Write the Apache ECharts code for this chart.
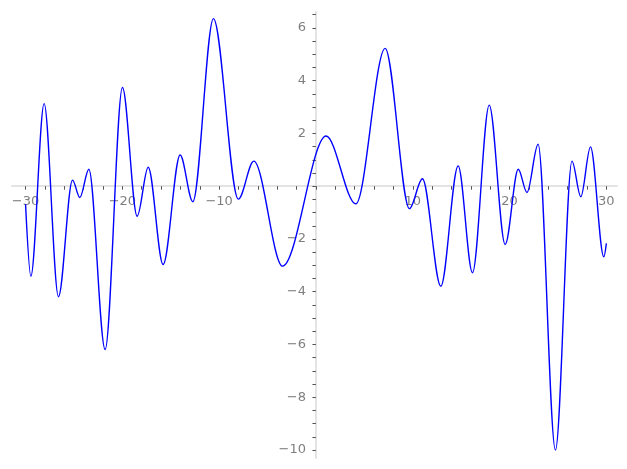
<!DOCTYPE html>
<html>
<head>
<meta charset="utf-8">
<script src="https://cdn.jsdelivr.net/npm/echarts@6/dist/echarts.min.js"></script>
<style>
html,body{margin:0;padding:0;background:#fff;}
#chart{width:627px;height:469px;}
</style>
</head>
<body>
<div id="chart"></div>
<script>
// Curve turning points (plus the two end points)
const xValues = [-30.0,-29.45,-28.08,-26.6,-25.15,-24.39,-23.46,-21.78,-19.99,-18.47,-17.33,-15.79,-14.03,-12.72,-10.59,-8.02,-6.42,-3.45,1.05,4.12,7.15,9.66,11.0,12.9,14.69,16.17,17.9,19.55,20.9,21.8,22.95,24.74,26.45,27.36,28.36,29.74,30.0];
const yValues = [-0.68,-3.41,3.13,-4.19,0.23,-0.43,0.64,-6.19,3.74,-1.14,0.72,-2.97,1.18,-0.59,6.35,-0.49,0.95,-3.03,1.9,-0.67,5.22,-0.85,0.28,-3.79,0.77,-3.28,3.07,-2.21,0.64,-0.24,1.59,-10.0,0.95,-0.40,1.49,-2.68,-2.17];

const xLabelValues = [-30,-20,-10,10,20,30];
const xTickValues = [-30,-28,-26,-24,-22,-20,-18,-16,-14,-12,-10,-8,-6,-4,-2,0,2,4,6,8,10,12,14,16,18,20,22,24,26,28,30];
const yLabelValues = [-10,-8,-6,-4,-2,2,4,6];
const yTickValues = [-10,-9.5,-9,-8.5,-8,-7.5,-7,-6.5,-6,-5.5,-5,-4.5,-4,-3.5,-3,-2.5,-2,-1.5,-1,-0.5,0,0.5,1,1.5,2,2.5,3,3.5,4,4.5,5,5.5,6,6.5];

const points = xValues.map((x, i) => [x, yValues[i]]);
const fmt = v => String(v).replace('-', '\u2212');

const W = 627, H = 469;
const G = {left:12, right:10, top:12, bottom:11};
const X_MIN = -31.4, X_MAX = 31.1, Y_MIN = -10.3, Y_MAX = 6.6;
const gridW = W - G.left - G.right, gridH = H - G.top - G.bottom;
// shift axes from grid edges to the zero lines of the other axis
const xAxisOffset = -((0 - Y_MIN) / (Y_MAX - Y_MIN)) * gridH;
const yAxisOffset = -((0 - X_MIN) / (X_MAX - X_MIN)) * gridW;

const axisColor = '#e3e3e3';
const tickColor = '#555555';
const labelStyle = {color:'#7f7f7f', fontSize:13, fontFamily:'DejaVu Sans'};

const chart = echarts.init(document.getElementById('chart'), null, {renderer:'canvas'});
chart.setOption({
  animation:false,
  backgroundColor:'#ffffff',
  grid:{left:G.left, right:G.right, top:G.top, bottom:G.bottom, containLabel:false, outerBoundsMode:'none'},
  xAxis:{type:'value', min:X_MIN, max:X_MAX, position:'bottom', offset:xAxisOffset,
     axisLine:{show:true, onZero:false, lineStyle:{color:axisColor, width:2}},
     axisTick:{show:true, customValues:xTickValues, length:3.5, lineStyle:{color:tickColor, width:1}},
     axisLabel:Object.assign({show:true, customValues:xLabelValues, formatter:fmt, margin:9}, labelStyle),
     splitLine:{show:false}},
  yAxis:{type:'value', min:Y_MIN, max:Y_MAX, position:'left', offset:yAxisOffset,
     axisLine:{show:true, onZero:false, lineStyle:{color:axisColor, width:2}},
     axisTick:{show:true, customValues:yTickValues, length:3.5, lineStyle:{color:tickColor, width:1}},
     axisLabel:Object.assign({show:true, customValues:yLabelValues, formatter:fmt, margin:10}, labelStyle),
     splitLine:{show:false}},
  series:[{
    type:'line', data:points,
    showSymbol:false, smooth:1/3, smoothMonotone:'x',
    lineStyle:{color:'#0000ff', width:1.4},
    z:5
  }]
});
</script>
</body>
</html>
